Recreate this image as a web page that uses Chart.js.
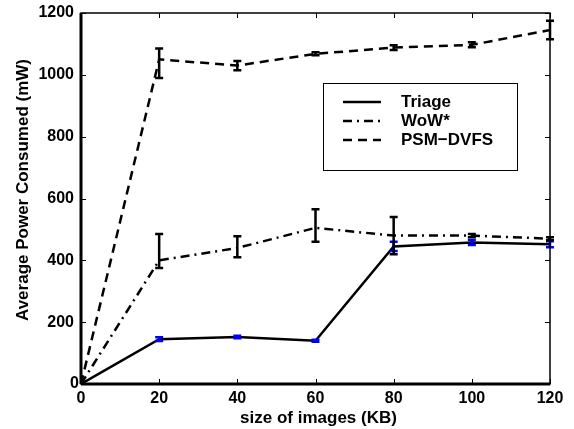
<!DOCTYPE html>
<html>
<head>
<meta charset="utf-8">
<script src="https://cdn.jsdelivr.net/npm/chart.js@4"></script>
<style>
  html, body { margin: 0; padding: 0; background: #fff; }
  #wrap { width: 574px; height: 429px; position: relative; }
</style>
</head>
<body>
<div id="wrap"><canvas id="myChart" width="574" height="429"></canvas></div>
<script>
// data
const sizes = [0, 20, 40, 60, 80, 100, 120];

const triage      = [0, 145, 152, 140, 445, 458, 452];
const triageLow   = [0, 6, 4, 3, 15, 8, 10];
const triageHigh  = [0, 6, 4, 3, 15, 8, 10];

const wow         = [0, 400, 440, 505, 480, 480, 470];
const wowLow      = [0, 25, 30, 45, 60, 5, 5];
const wowHigh     = [0, 85, 38, 60, 60, 5, 5];

const psm         = [0, 1050, 1030, 1068, 1088, 1097, 1145];
const psmLow      = [0, 60, 15, 5, 8, 8, 30];
const psmHigh     = [0, 35, 15, 5, 8, 8, 30];

const xTicks = [0, 20, 40, 60, 80, 100, 120];
const yTicks = [0, 200, 400, 600, 800, 1000, 1200];

const font = "'Liberation Sans', Arial, sans-serif";

const ctx = document.getElementById('myChart');

function pts(ys) {
  return sizes.map((x, i) => ({ x: x, y: ys[i] }));
}

// error bars, frame, inner ticks, axis titles and legend
const matlabLook = {
  id: 'matlabLook',
  afterDatasetsDraw(chart) {
    const c = chart.ctx;
    const xs = chart.scales.x, ys = chart.scales.y;
    const a = chart.chartArea;

    chart.data.datasets.forEach(ds => {
      c.save();
      c.strokeStyle = ds.barColor;
      c.lineWidth = 2.5;
      c.setLineDash([]);
      ds.data.forEach((p, i) => {
        if (ds.errLow[i] === 0 && ds.errHigh[i] === 0) return;
        const px = xs.getPixelForValue(p.x);
        const lo = ys.getPixelForValue(p.y - ds.errLow[i]);
        const hi = ys.getPixelForValue(p.y + ds.errHigh[i]);
        c.beginPath();
        c.moveTo(px, lo); c.lineTo(px, hi);
        c.moveTo(px - 4, lo); c.lineTo(px + 4, lo);
        c.moveTo(px - 4, hi); c.lineTo(px + 4, hi);
        c.stroke();
      });
      c.restore();
    });

    // frame and inward ticks
    c.save();
    c.strokeStyle = '#000';
    c.setLineDash([]);
    c.lineWidth = 1;
    xTicks.forEach(v => {
      const px = Math.round(xs.getPixelForValue(v)) + 0.5;
      c.beginPath();
      c.moveTo(px, a.bottom); c.lineTo(px, a.bottom - 5);
      c.moveTo(px, a.top); c.lineTo(px, a.top + 5);
      c.stroke();
    });
    yTicks.forEach(v => {
      const py = Math.round(ys.getPixelForValue(v)) + 0.5;
      c.beginPath();
      c.moveTo(a.left, py); c.lineTo(a.left + 5, py);
      c.moveTo(a.right, py); c.lineTo(a.right - 5, py);
      c.stroke();
    });
    c.lineWidth = 1.5;
    c.strokeRect(a.left, a.top, a.right - a.left, a.bottom - a.top);
    c.lineWidth = 3;
    c.beginPath();
    c.moveTo(a.left, a.bottom); c.lineTo(a.right, a.bottom);
    c.moveTo(a.left, a.top); c.lineTo(a.left, a.bottom);
    c.stroke();

    // tick labels
    c.fillStyle = '#000';
    c.font = 'bold 16px ' + font;
    c.textAlign = 'center';
    c.textBaseline = 'top';
    xTicks.forEach(v => c.fillText(String(v), xs.getPixelForValue(v), a.bottom + 7));
    c.textAlign = 'right';
    c.textBaseline = 'middle';
    yTicks.forEach(v => {
      let py = ys.getPixelForValue(v);
      let px = a.left - 7;
      if (v === 0) { py = a.bottom; px = a.left - 2; }
      c.fillText(String(v), px, py);
    });

    // axis titles
    c.font = 'bold 17px ' + font;
    c.textAlign = 'center';
    c.textBaseline = 'alphabetic';
    c.fillText('size of images (KB)', (a.left + a.right) / 2 + 3, 423);
    c.save();
    c.translate(28, 190);
    c.rotate(-Math.PI / 2);
    c.fillText('Average Power Consumed (mW)', 0, 0);
    c.restore();

    // legend box
    const lx = 323, ly = 83, lw = 194, lh = 87;
    c.fillStyle = '#fff';
    c.fillRect(lx, ly, lw, lh);
    c.lineWidth = 1;
    c.strokeStyle = '#000';
    c.strokeRect(lx + 0.5, ly + 0.5, lw, lh);
    c.font = 'bold 17px ' + font;
    c.textAlign = 'left';
    c.textBaseline = 'middle';
    chart.data.datasets.forEach((ds, i) => {
      const y = 102 + i * 19;
      c.lineWidth = 2.5;
      c.setLineDash(ds.borderDash || []);
      c.beginPath();
      c.moveTo(343, y); c.lineTo(381, y);
      c.stroke();
      c.setLineDash([]);
      c.fillStyle = '#000';
      c.fillText(ds.label, 401, y);
    });
    c.restore();
  }
};

new Chart(ctx, {
  type: 'line',
  data: {
    datasets: [{
      label: 'Triage',
      data: pts(triage),
      errLow: triageLow,
      errHigh: triageHigh,
      barColor: '#0000ff',
      borderColor: '#000',
      borderWidth: 2.5,
      pointRadius: 0,
      tension: 0
    }, {
      label: 'WoW*',
      data: pts(wow),
      errLow: wowLow,
      errHigh: wowHigh,
      barColor: '#000',
      borderColor: '#000',
      borderWidth: 2.5,
      borderDash: [9, 5, 2, 5],
      pointRadius: 0,
      tension: 0
    }, {
      label: 'PSM\u2212DVFS',
      data: pts(psm),
      errLow: psmLow,
      errHigh: psmHigh,
      barColor: '#000',
      borderColor: '#000',
      borderWidth: 2.5,
      borderDash: [9, 6],
      pointRadius: 0,
      tension: 0
    }]
  },
  options: {
    responsive: false,
    animation: false,
    layout: { padding: { top: 13, right: 24, left: 0, bottom: 0 } },
    plugins: {
      legend: { display: false },
      tooltip: { enabled: false }
    },
    scales: {
      x: {
        type: 'linear',
        min: 0,
        max: 120,
        grid: { display: false },
        border: { display: false },
        ticks: { display: false },
        afterFit(scale) { scale.height = 45; }
      },
      y: {
        min: 0,
        max: 1200,
        grid: { display: false },
        border: { display: false },
        ticks: { display: false },
        afterFit(scale) { scale.width = 81; }
      }
    }
  },
  plugins: [matlabLook]
});
</script>
</body>
</html>
